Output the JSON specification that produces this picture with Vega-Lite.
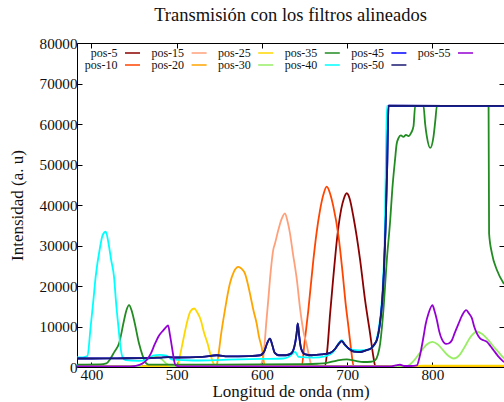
{
  "$schema": "https://vega.github.io/schema/vega-lite/v6.json",
  "width": 427,
  "height": 324,
  "autosize": {"type": "none"},
  "padding": {"left": 77, "top": 43, "right": 0, "bottom": 35},
  "background": "white",
  "title": {
    "text": "Transmisión con los filtros alineados",
    "font": "Liberation Serif",
    "fontSize": 18.5,
    "fontWeight": "normal",
    "color": "#111",
    "anchor": "middle",
    "frame": "group",
    "baseline": "alphabetic",
    "offset": -3
  },
  "config": {
    "view": {"stroke": null},
    "axis": {
      "grid": false,
      "labelFont": "Liberation Serif",
      "titleFont": "Liberation Serif",
      "labelFontSize": 15.2,
      "titleFontSize": 17,
      "titleFontWeight": "normal",
      "labelColor": "#111",
      "titleColor": "#111",
      "domainColor": "#000",
      "tickColor": "#000",
      "tickSize": -5,
      "domainWidth": 1,
      "tickWidth": 1,
      "labelFlush": false
    }
  },
  "data": {
    "values": [
      {"s": "pos-5", "x": 383, "y": 150}, {"s": "pos-5", "x": 500, "y": 150}, {"s": "pos-5", "x": 660, "y": 150},
      {"s": "pos-5", "x": 674, "y": 250}, {"s": "pos-5", "x": 677, "y": 5000}, {"s": "pos-5", "x": 679.9, "y": 13000},
      {"s": "pos-5", "x": 683.8, "y": 22300}, {"s": "pos-5", "x": 687, "y": 29500}, {"s": "pos-5", "x": 690, "y": 35000},
      {"s": "pos-5", "x": 693, "y": 39000}, {"s": "pos-5", "x": 696, "y": 41500}, {"s": "pos-5", "x": 699.5, "y": 42900},
      {"s": "pos-5", "x": 703, "y": 41500}, {"s": "pos-5", "x": 707.3, "y": 37100}, {"s": "pos-5", "x": 711, "y": 32500},
      {"s": "pos-5", "x": 715.2, "y": 26400}, {"s": "pos-5", "x": 721, "y": 16500}, {"s": "pos-5", "x": 726.9, "y": 8260},
      {"s": "pos-5", "x": 730.8, "y": 2470}, {"s": "pos-5", "x": 733, "y": 250}, {"s": "pos-5", "x": 760, "y": 150},
      {"s": "pos-5", "x": 884, "y": 150},

      {"s": "pos-10", "x": 383, "y": 150}, {"s": "pos-10", "x": 500, "y": 150}, {"s": "pos-10", "x": 640, "y": 150},
      {"s": "pos-10", "x": 646.6, "y": 300}, {"s": "pos-10", "x": 650, "y": 6000}, {"s": "pos-10", "x": 654.4, "y": 14000},
      {"s": "pos-10", "x": 660.3, "y": 26400}, {"s": "pos-10", "x": 664, "y": 33000}, {"s": "pos-10", "x": 668.2, "y": 38800},
      {"s": "pos-10", "x": 672, "y": 42500}, {"s": "pos-10", "x": 676, "y": 44530}, {"s": "pos-10", "x": 680, "y": 42800},
      {"s": "pos-10", "x": 683.8, "y": 39600}, {"s": "pos-10", "x": 689.7, "y": 32500}, {"s": "pos-10", "x": 695, "y": 22500},
      {"s": "pos-10", "x": 698, "y": 16000}, {"s": "pos-10", "x": 701.5, "y": 9900}, {"s": "pos-10", "x": 704.5, "y": 4500},
      {"s": "pos-10", "x": 707.5, "y": 300}, {"s": "pos-10", "x": 720, "y": 150}, {"s": "pos-10", "x": 884, "y": 150},

      {"s": "pos-15", "x": 383, "y": 150}, {"s": "pos-15", "x": 500, "y": 150}, {"s": "pos-15", "x": 595, "y": 150},
      {"s": "pos-15", "x": 598, "y": 400}, {"s": "pos-15", "x": 601.5, "y": 2470}, {"s": "pos-15", "x": 605.5, "y": 12000},
      {"s": "pos-15", "x": 607.4, "y": 16500}, {"s": "pos-15", "x": 610, "y": 23000}, {"s": "pos-15", "x": 613.3, "y": 29000},
      {"s": "pos-15", "x": 615.3, "y": 30500}, {"s": "pos-15", "x": 619.2, "y": 33800}, {"s": "pos-15", "x": 623, "y": 36500},
      {"s": "pos-15", "x": 627, "y": 37950}, {"s": "pos-15", "x": 630, "y": 36000}, {"s": "pos-15", "x": 632.9, "y": 33000},
      {"s": "pos-15", "x": 636, "y": 28500}, {"s": "pos-15", "x": 640.8, "y": 21800}, {"s": "pos-15", "x": 645, "y": 14000},
      {"s": "pos-15", "x": 648.5, "y": 9000}, {"s": "pos-15", "x": 652.5, "y": 5500}, {"s": "pos-15", "x": 656, "y": 2000},
      {"s": "pos-15", "x": 658.4, "y": 300}, {"s": "pos-15", "x": 670, "y": 150}, {"s": "pos-15", "x": 884, "y": 150},

      {"s": "pos-20", "x": 383, "y": 150}, {"s": "pos-20", "x": 500, "y": 150}, {"s": "pos-20", "x": 544, "y": 150},
      {"s": "pos-20", "x": 546.8, "y": 400}, {"s": "pos-20", "x": 548.6, "y": 2470}, {"s": "pos-20", "x": 552, "y": 8000},
      {"s": "pos-20", "x": 556.5, "y": 14000}, {"s": "pos-20", "x": 562.4, "y": 20600}, {"s": "pos-20", "x": 567, "y": 23500},
      {"s": "pos-20", "x": 572.2, "y": 24740}, {"s": "pos-20", "x": 576, "y": 24300}, {"s": "pos-20", "x": 580, "y": 23100},
      {"s": "pos-20", "x": 585.9, "y": 18160}, {"s": "pos-20", "x": 590, "y": 14000}, {"s": "pos-20", "x": 593.8, "y": 10740},
      {"s": "pos-20", "x": 596.5, "y": 7500}, {"s": "pos-20", "x": 599.6, "y": 4950}, {"s": "pos-20", "x": 603.5, "y": 300},
      {"s": "pos-20", "x": 615, "y": 150}, {"s": "pos-20", "x": 884, "y": 150},

      {"s": "pos-25", "x": 383, "y": 150}, {"s": "pos-25", "x": 498, "y": 150}, {"s": "pos-25", "x": 500.9, "y": 400},
      {"s": "pos-25", "x": 503.5, "y": 2500}, {"s": "pos-25", "x": 506.8, "y": 5800}, {"s": "pos-25", "x": 512.7, "y": 11550},
      {"s": "pos-25", "x": 516, "y": 13700}, {"s": "pos-25", "x": 520.4, "y": 14450}, {"s": "pos-25", "x": 524, "y": 13500},
      {"s": "pos-25", "x": 528.3, "y": 11550}, {"s": "pos-25", "x": 532, "y": 8500}, {"s": "pos-25", "x": 536.2, "y": 5800},
      {"s": "pos-25", "x": 540, "y": 2800}, {"s": "pos-25", "x": 543.9, "y": 600}, {"s": "pos-25", "x": 548, "y": 150},
      {"s": "pos-25", "x": 770, "y": 150}, {"s": "pos-25", "x": 790, "y": 350}, {"s": "pos-25", "x": 884, "y": 350},

      {"s": "pos-30", "x": 383, "y": 150}, {"s": "pos-30", "x": 455, "y": 200}, {"s": "pos-30", "x": 462, "y": 1200},
      {"s": "pos-30", "x": 468, "y": 2300}, {"s": "pos-30", "x": 476, "y": 2500}, {"s": "pos-30", "x": 482, "y": 2000},
      {"s": "pos-30", "x": 488, "y": 800}, {"s": "pos-30", "x": 495, "y": 200}, {"s": "pos-30", "x": 520, "y": 150},
      {"s": "pos-30", "x": 765, "y": 150}, {"s": "pos-30", "x": 771, "y": 300}, {"s": "pos-30", "x": 778, "y": 1500},
      {"s": "pos-30", "x": 786, "y": 3700}, {"s": "pos-30", "x": 793, "y": 5500}, {"s": "pos-30", "x": 800, "y": 6200},
      {"s": "pos-30", "x": 806, "y": 5600}, {"s": "pos-30", "x": 812, "y": 4300}, {"s": "pos-30", "x": 818, "y": 2900},
      {"s": "pos-30", "x": 825, "y": 2100}, {"s": "pos-30", "x": 832, "y": 3000}, {"s": "pos-30", "x": 838, "y": 5000},
      {"s": "pos-30", "x": 845, "y": 7500}, {"s": "pos-30", "x": 852, "y": 8700}, {"s": "pos-30", "x": 858, "y": 8200},
      {"s": "pos-30", "x": 864, "y": 7000}, {"s": "pos-30", "x": 870, "y": 5500}, {"s": "pos-30", "x": 877, "y": 3800},
      {"s": "pos-30", "x": 884, "y": 2100},

      {"s": "pos-35", "x": 383, "y": 600}, {"s": "pos-35", "x": 410, "y": 650}, {"s": "pos-35", "x": 417.5, "y": 900},
      {"s": "pos-35", "x": 422, "y": 2000}, {"s": "pos-35", "x": 427, "y": 3800}, {"s": "pos-35", "x": 432.3, "y": 5800},
      {"s": "pos-35", "x": 438.2, "y": 11550}, {"s": "pos-35", "x": 441, "y": 14000}, {"s": "pos-35", "x": 444.1, "y": 15260},
      {"s": "pos-35", "x": 447, "y": 14000}, {"s": "pos-35", "x": 450, "y": 11550}, {"s": "pos-35", "x": 455.8, "y": 5800},
      {"s": "pos-35", "x": 460, "y": 2800}, {"s": "pos-35", "x": 463.7, "y": 1000}, {"s": "pos-35", "x": 467, "y": 600},
      {"s": "pos-35", "x": 550, "y": 600}, {"s": "pos-35", "x": 650, "y": 700}, {"s": "pos-35", "x": 665, "y": 800},
      {"s": "pos-35", "x": 676, "y": 1000}, {"s": "pos-35", "x": 688, "y": 1600}, {"s": "pos-35", "x": 699.5, "y": 1900},
      {"s": "pos-35", "x": 710, "y": 1500}, {"s": "pos-35", "x": 719, "y": 1240}, {"s": "pos-35", "x": 728, "y": 1300},
      {"s": "pos-35", "x": 732.8, "y": 1650}, {"s": "pos-35", "x": 736, "y": 3000}, {"s": "pos-35", "x": 738.7, "y": 5800},
      {"s": "pos-35", "x": 742.5, "y": 14000}, {"s": "pos-35", "x": 746.5, "y": 26400}, {"s": "pos-35", "x": 750.4, "y": 36000},
      {"s": "pos-35", "x": 753, "y": 44000}, {"s": "pos-35", "x": 756.3, "y": 51500}, {"s": "pos-35", "x": 758, "y": 55000},
      {"s": "pos-35", "x": 760.2, "y": 56500}, {"s": "pos-35", "x": 763, "y": 57200}, {"s": "pos-35", "x": 766, "y": 56800},
      {"s": "pos-35", "x": 769, "y": 57300}, {"s": "pos-35", "x": 772, "y": 57000}, {"s": "pos-35", "x": 775, "y": 57800},
      {"s": "pos-35", "x": 777.8, "y": 59400}, {"s": "pos-35", "x": 779.8, "y": 64500}, {"s": "pos-35", "x": 789.5, "y": 64500},
      {"s": "pos-35", "x": 791.5, "y": 60000}, {"s": "pos-35", "x": 793.5, "y": 56900}, {"s": "pos-35", "x": 797.4, "y": 54100},
      {"s": "pos-35", "x": 801.3, "y": 56900}, {"s": "pos-35", "x": 803.5, "y": 61000}, {"s": "pos-35", "x": 805.3, "y": 64500},
      {"s": "pos-35", "x": 865.9, "y": 64500}, {"s": "pos-35", "x": 866.5, "y": 33000}, {"s": "pos-35", "x": 869.9, "y": 28000},
      {"s": "pos-35", "x": 875.8, "y": 23900}, {"s": "pos-35", "x": 884, "y": 20500},

      {"s": "pos-40", "x": 383, "y": 2400}, {"s": "pos-40", "x": 390, "y": 2400}, {"s": "pos-40", "x": 395.2, "y": 2700},
      {"s": "pos-40", "x": 399, "y": 9900}, {"s": "pos-40", "x": 402, "y": 16000}, {"s": "pos-40", "x": 404.9, "y": 22300},
      {"s": "pos-40", "x": 410, "y": 29500}, {"s": "pos-40", "x": 413, "y": 32500}, {"s": "pos-40", "x": 416.7, "y": 33400},
      {"s": "pos-40", "x": 420, "y": 30500}, {"s": "pos-40", "x": 423, "y": 26500}, {"s": "pos-40", "x": 426.4, "y": 22300},
      {"s": "pos-40", "x": 429, "y": 15500}, {"s": "pos-40", "x": 431.6, "y": 9900}, {"s": "pos-40", "x": 434, "y": 5000},
      {"s": "pos-40", "x": 436.3, "y": 2500}, {"s": "pos-40", "x": 440, "y": 1700}, {"s": "pos-40", "x": 455, "y": 1500},
      {"s": "pos-40", "x": 465, "y": 1800}, {"s": "pos-40", "x": 472, "y": 2800}, {"s": "pos-40", "x": 480, "y": 3000},
      {"s": "pos-40", "x": 488, "y": 2800}, {"s": "pos-40", "x": 495, "y": 1800}, {"s": "pos-40", "x": 520, "y": 1600},
      {"s": "pos-40", "x": 560, "y": 1800}, {"s": "pos-40", "x": 600, "y": 2000}, {"s": "pos-40", "x": 625, "y": 2100},
      {"s": "pos-40", "x": 632, "y": 2600}, {"s": "pos-40", "x": 638.8, "y": 3710}, {"s": "pos-40", "x": 643, "y": 2500},
      {"s": "pos-40", "x": 660, "y": 2300}, {"s": "pos-40", "x": 675, "y": 2700}, {"s": "pos-40", "x": 684, "y": 3800},
      {"s": "pos-40", "x": 689, "y": 5500}, {"s": "pos-40", "x": 693.6, "y": 6600}, {"s": "pos-40", "x": 698, "y": 5200},
      {"s": "pos-40", "x": 705, "y": 4300}, {"s": "pos-40", "x": 715, "y": 4100}, {"s": "pos-40", "x": 725, "y": 4300},
      {"s": "pos-40", "x": 730, "y": 4900}, {"s": "pos-40", "x": 734, "y": 6500}, {"s": "pos-40", "x": 737, "y": 9500},
      {"s": "pos-40", "x": 740, "y": 14500}, {"s": "pos-40", "x": 742, "y": 21000}, {"s": "pos-40", "x": 744, "y": 32000},
      {"s": "pos-40", "x": 745, "y": 45000}, {"s": "pos-40", "x": 746, "y": 58000}, {"s": "pos-40", "x": 746.8, "y": 64500},
      {"s": "pos-40", "x": 884, "y": 64500},

      {"s": "pos-45", "x": 383, "y": 2100}, {"s": "pos-45", "x": 400, "y": 2100}, {"s": "pos-45", "x": 430, "y": 2150},
      {"s": "pos-45", "x": 460, "y": 2200}, {"s": "pos-45", "x": 480, "y": 2300}, {"s": "pos-45", "x": 490, "y": 2450},
      {"s": "pos-45", "x": 500, "y": 2350}, {"s": "pos-45", "x": 530, "y": 2500}, {"s": "pos-45", "x": 547, "y": 2900},
      {"s": "pos-45", "x": 560, "y": 2600}, {"s": "pos-45", "x": 585, "y": 2700}, {"s": "pos-45", "x": 598, "y": 2900},
      {"s": "pos-45", "x": 603, "y": 4000}, {"s": "pos-45", "x": 606, "y": 5800}, {"s": "pos-45", "x": 609.4, "y": 7030},
      {"s": "pos-45", "x": 612, "y": 5500}, {"s": "pos-45", "x": 615, "y": 3500}, {"s": "pos-45", "x": 620, "y": 2900},
      {"s": "pos-45", "x": 628, "y": 2900}, {"s": "pos-45", "x": 634, "y": 3300}, {"s": "pos-45", "x": 638, "y": 5000},
      {"s": "pos-45", "x": 640.5, "y": 8000}, {"s": "pos-45", "x": 642, "y": 10740}, {"s": "pos-45", "x": 643.5, "y": 8000},
      {"s": "pos-45", "x": 646, "y": 4500}, {"s": "pos-45", "x": 650, "y": 3200}, {"s": "pos-45", "x": 658, "y": 2900},
      {"s": "pos-45", "x": 670, "y": 3100}, {"s": "pos-45", "x": 680, "y": 3500}, {"s": "pos-45", "x": 686, "y": 4500},
      {"s": "pos-45", "x": 690, "y": 5700}, {"s": "pos-45", "x": 693.6, "y": 6400}, {"s": "pos-45", "x": 697, "y": 5600},
      {"s": "pos-45", "x": 702, "y": 4500}, {"s": "pos-45", "x": 708, "y": 3800}, {"s": "pos-45", "x": 715, "y": 3700},
      {"s": "pos-45", "x": 722, "y": 4100}, {"s": "pos-45", "x": 728, "y": 4600}, {"s": "pos-45", "x": 732, "y": 5600},
      {"s": "pos-45", "x": 735, "y": 6800}, {"s": "pos-45", "x": 738, "y": 10000}, {"s": "pos-45", "x": 741, "y": 16000},
      {"s": "pos-45", "x": 743, "y": 23000}, {"s": "pos-45", "x": 745, "y": 34000}, {"s": "pos-45", "x": 747, "y": 50000},
      {"s": "pos-45", "x": 748.5, "y": 64500}, {"s": "pos-45", "x": 884, "y": 64500},

      {"s": "pos-50", "x": 383, "y": 2100}, {"s": "pos-50", "x": 400, "y": 2100}, {"s": "pos-50", "x": 430, "y": 2150},
      {"s": "pos-50", "x": 460, "y": 2200}, {"s": "pos-50", "x": 480, "y": 2300}, {"s": "pos-50", "x": 490, "y": 2450},
      {"s": "pos-50", "x": 500, "y": 2350}, {"s": "pos-50", "x": 530, "y": 2500}, {"s": "pos-50", "x": 547, "y": 2900},
      {"s": "pos-50", "x": 560, "y": 2600}, {"s": "pos-50", "x": 585, "y": 2700}, {"s": "pos-50", "x": 598, "y": 2900},
      {"s": "pos-50", "x": 603, "y": 4000}, {"s": "pos-50", "x": 606, "y": 5800}, {"s": "pos-50", "x": 609.4, "y": 7030},
      {"s": "pos-50", "x": 612, "y": 5500}, {"s": "pos-50", "x": 615, "y": 3500}, {"s": "pos-50", "x": 620, "y": 2900},
      {"s": "pos-50", "x": 628, "y": 2900}, {"s": "pos-50", "x": 634, "y": 3300}, {"s": "pos-50", "x": 638, "y": 5000},
      {"s": "pos-50", "x": 640.5, "y": 8000}, {"s": "pos-50", "x": 642, "y": 10740}, {"s": "pos-50", "x": 643.5, "y": 8000},
      {"s": "pos-50", "x": 646, "y": 4500}, {"s": "pos-50", "x": 650, "y": 3200}, {"s": "pos-50", "x": 658, "y": 2900},
      {"s": "pos-50", "x": 670, "y": 3100}, {"s": "pos-50", "x": 680, "y": 3500}, {"s": "pos-50", "x": 686, "y": 4500},
      {"s": "pos-50", "x": 690, "y": 5700}, {"s": "pos-50", "x": 693.6, "y": 6400}, {"s": "pos-50", "x": 697, "y": 5600},
      {"s": "pos-50", "x": 702, "y": 4500}, {"s": "pos-50", "x": 708, "y": 3800}, {"s": "pos-50", "x": 715, "y": 3700},
      {"s": "pos-50", "x": 722, "y": 4100}, {"s": "pos-50", "x": 728, "y": 4600}, {"s": "pos-50", "x": 732, "y": 5600},
      {"s": "pos-50", "x": 735, "y": 6800}, {"s": "pos-50", "x": 738, "y": 10000}, {"s": "pos-50", "x": 741, "y": 16000},
      {"s": "pos-50", "x": 743, "y": 23000}, {"s": "pos-50", "x": 745, "y": 34000}, {"s": "pos-50", "x": 747, "y": 50000},
      {"s": "pos-50", "x": 748.5, "y": 64500}, {"s": "pos-50", "x": 884, "y": 64500},

      {"s": "pos-55", "x": 383, "y": 150}, {"s": "pos-55", "x": 440, "y": 150}, {"s": "pos-55", "x": 452, "y": 300},
      {"s": "pos-55", "x": 459.8, "y": 840}, {"s": "pos-55", "x": 465, "y": 1800}, {"s": "pos-55", "x": 469.6, "y": 3300},
      {"s": "pos-55", "x": 474, "y": 5500}, {"s": "pos-55", "x": 479.3, "y": 7800}, {"s": "pos-55", "x": 484, "y": 9000},
      {"s": "pos-55", "x": 487, "y": 9700}, {"s": "pos-55", "x": 489.9, "y": 10300}, {"s": "pos-55", "x": 492, "y": 8000},
      {"s": "pos-55", "x": 495, "y": 4130}, {"s": "pos-55", "x": 497, "y": 1500}, {"s": "pos-55", "x": 498.9, "y": 400},
      {"s": "pos-55", "x": 505, "y": 150}, {"s": "pos-55", "x": 700, "y": 150}, {"s": "pos-55", "x": 750, "y": 150},
      {"s": "pos-55", "x": 757, "y": 400}, {"s": "pos-55", "x": 762, "y": 550}, {"s": "pos-55", "x": 767, "y": 250},
      {"s": "pos-55", "x": 775, "y": 250}, {"s": "pos-55", "x": 781.8, "y": 400}, {"s": "pos-55", "x": 785, "y": 2500},
      {"s": "pos-55", "x": 789.5, "y": 7400}, {"s": "pos-55", "x": 792, "y": 10500}, {"s": "pos-55", "x": 795.4, "y": 13200},
      {"s": "pos-55", "x": 800.1, "y": 15260}, {"s": "pos-55", "x": 802.5, "y": 13800}, {"s": "pos-55", "x": 805.3, "y": 11550},
      {"s": "pos-55", "x": 808, "y": 8800}, {"s": "pos-55", "x": 811.2, "y": 6800}, {"s": "pos-55", "x": 816.2, "y": 5700},
      {"s": "pos-55", "x": 819, "y": 5800}, {"s": "pos-55", "x": 822.9, "y": 6600}, {"s": "pos-55", "x": 826, "y": 8300},
      {"s": "pos-55", "x": 830.7, "y": 10700}, {"s": "pos-55", "x": 835, "y": 12800}, {"s": "pos-55", "x": 839.7, "y": 14030},
      {"s": "pos-55", "x": 843, "y": 13200}, {"s": "pos-55", "x": 846.4, "y": 12000}, {"s": "pos-55", "x": 849, "y": 10000},
      {"s": "pos-55", "x": 852.3, "y": 8260}, {"s": "pos-55", "x": 856.2, "y": 7030}, {"s": "pos-55", "x": 860, "y": 6600},
      {"s": "pos-55", "x": 864, "y": 6200}, {"s": "pos-55", "x": 868, "y": 5200}, {"s": "pos-55", "x": 871.8, "y": 4130},
      {"s": "pos-55", "x": 877, "y": 2700}, {"s": "pos-55", "x": 884, "y": 1200}
    ]
  },
  "layer": [
    {
      "mark": {"type": "line", "strokeWidth": 1.8, "interpolate": "monotone", "clip": true},
      "encoding": {
        "x": {
          "field": "x",
          "type": "quantitative",
          "scale": {"domain": [383, 884], "nice": false, "zero": false},
          "axis": {
            "values": [400, 500, 600, 700, 800],
            "title": "Longitud de onda (nm)",
            "labelPadding": 5,
            "titlePadding": 1
          }
        },
        "y": {
          "field": "y",
          "type": "quantitative",
          "scale": {"domain": [0, 80000], "nice": false},
          "axis": {
            "values": [0, 10000, 20000, 30000, 40000, 50000, 60000, 70000, 80000],
            "format": "d",
            "title": "Intensidad (a. u)",
            "labelPadding": 5,
            "titlePadding": 13
          }
        },
        "color": {
          "field": "s",
          "type": "nominal",
          "scale": {
            "domain": ["pos-5", "pos-15", "pos-25", "pos-35", "pos-45", "pos-55", "pos-10", "pos-20", "pos-30", "pos-40", "pos-50"],
            "range": ["#8b0000", "#ffa07a", "#ffd700", "#228b22", "#0000ff", "#9400d3", "#ff4500", "#ffa500", "#99ee66", "#00ffff", "#191970"]
          },
          "legend": {
            "title": null,
            "orient": "none",
            "legendX": 6.5,
            "legendY": 5,
            "direction": "horizontal",
            "columns": 6,
            "gridAlign": "all",
            "columnPadding": 6.6,
            "rowPadding": 0,
            "padding": 0,
            "symbolType": "stroke",
            "symbolSize": 225,
            "symbolStrokeWidth": 1.5,
            "labelFont": "Liberation Serif",
            "labelFontSize": 12,
            "labelColor": "#111",
            "encode": {
              "entries": {"update": {"width": {"value": 60}, "height": {"value": 10}, "fill": {"value": "transparent"}}},
              "labels": {"update": {"x": {"value": 34}, "y": {"signal": "datum.index < 6 ? 5 : 2"}, "align": {"value": "right"}, "baseline": {"value": "middle"}}},
              "symbols": {"update": {"x": {"value": 49}, "y": {"signal": "datum.index < 6 ? 5 : 2"}}}
            }
          }
        }
      }
    },
    {
      "mark": {"type": "line", "opacity": 0},
      "encoding": {
        "x": {
          "field": "x",
          "type": "quantitative",
          "axis": {"orient": "top", "values": [400, 500, 600, 700, 800], "labels": false, "title": null}
        },
        "y": {
          "field": "y",
          "type": "quantitative",
          "axis": {
            "orient": "right",
            "values": [0, 10000, 20000, 30000, 40000, 50000, 60000, 70000, 80000],
            "labels": false,
            "title": null,
            "domain": false
          }
        },
        "detail": {"field": "s"}
      }
    }
  ],
  "resolve": {"axis": {"x": "independent", "y": "independent"}}
}
